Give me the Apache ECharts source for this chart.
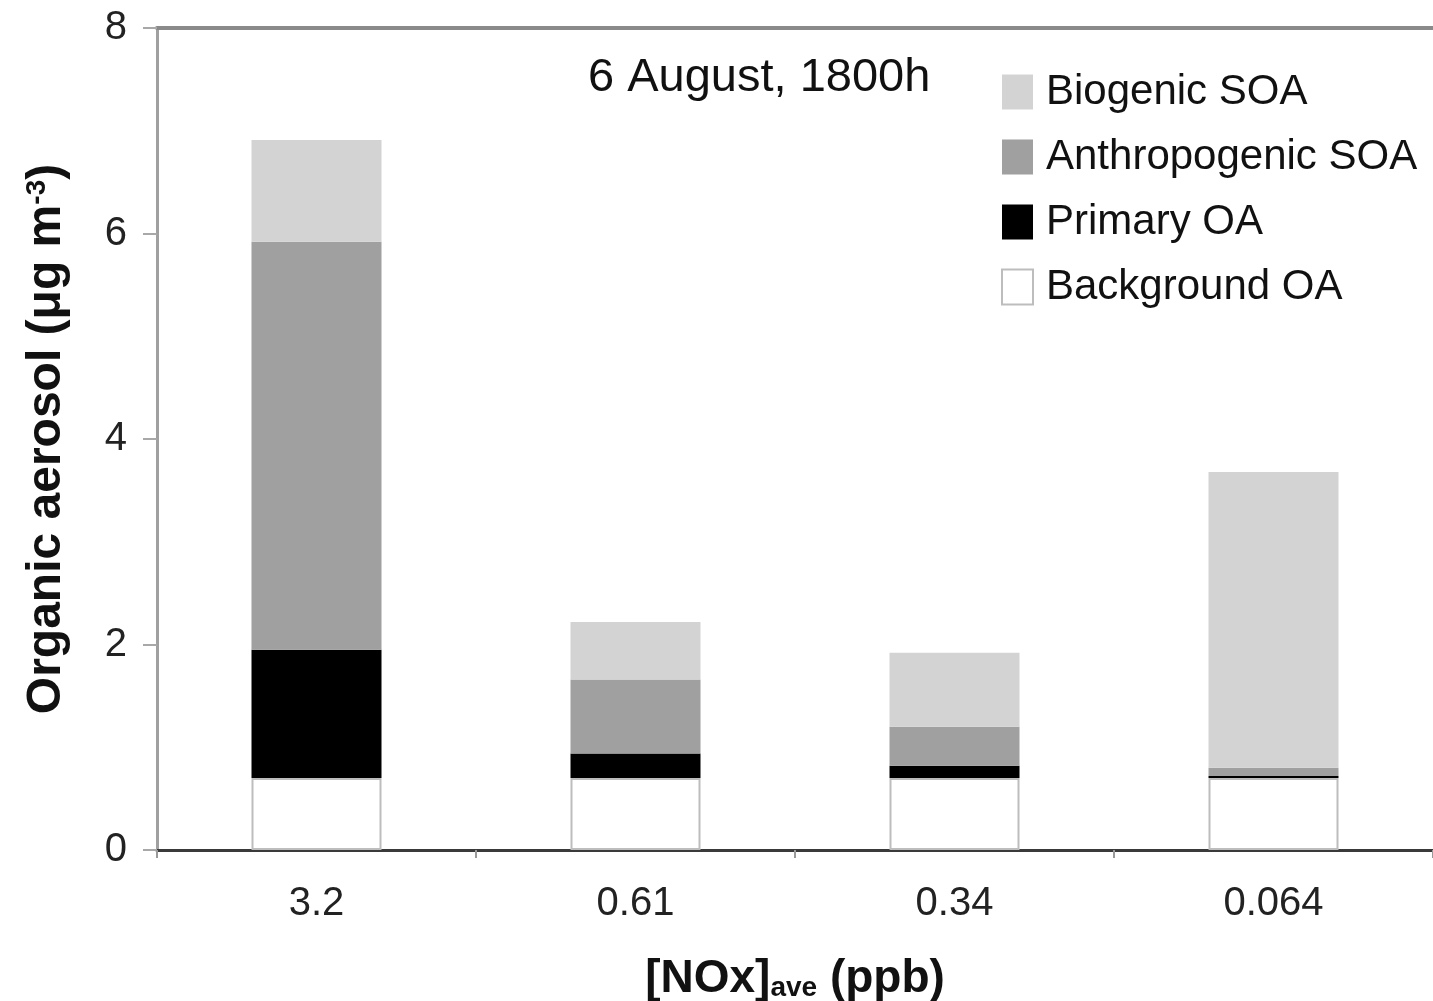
<!DOCTYPE html>
<html>
<head>
<meta charset="utf-8">
<title>Organic aerosol by NOx level</title>
<script src="https://cdn.jsdelivr.net/npm/echarts@6/dist/echarts.min.js"></script>
<style>
  html, body { margin: 0; padding: 0; background: #ffffff; overflow: hidden; }
  #chart { width: 1433px; height: 1001px; }
</style>
</head>
<body>
<div id="chart"></div>
<script>
// Average NOx (ppb) for each case
const categories = ['3.2', '0.61', '0.34', '0.064'];

// Organic aerosol components (µg m-3), stacked from the bottom up
const backgroundOA     = [0.70, 0.70, 0.70, 0.70];
const primaryOA        = [1.25, 0.24, 0.12, 0.02];
const anthropogenicSOA = [3.97, 0.72, 0.38, 0.08];
const biogenicSOA      = [0.99, 0.56, 0.72, 2.88];

const yTicks = { min: 0, max: 8, interval: 2 };
const titleText = '6 August, 1800h';

const FONT = '"Liberation Sans", Arial, Helvetica, sans-serif';

const chart = echarts.init(document.getElementById('chart'), null, { renderer: 'canvas' });

function barSeries(name, data, color, border) {
  return {
    name: name,
    type: 'bar',
    stack: 'oa',
    data: data,
    barWidth: 130,
    itemStyle: {
      color: color,
      borderColor: border || color,
      borderWidth: border ? 2 : 0
    },
    emphasis: { disabled: true }
  };
}

chart.setOption({
  animation: false,
  backgroundColor: '#ffffff',
  title: {
    text: titleText,
    left: 588,
    top: 55,
    padding: 0,
    textStyle: { fontFamily: FONT, fontSize: 47, fontWeight: 'normal', color: '#111111' }
  },
  legend: {
    orient: 'vertical',
    left: 1001,
    top: 71,
    padding: 0,
    icon: 'rect',
    itemWidth: 31,
    itemHeight: 35,
    itemGap: 23,
    selectedMode: false,
    data: ['Biogenic SOA', 'Anthropogenic SOA', 'Primary OA', 'Background OA'],
    textStyle: { fontFamily: FONT, fontSize: 42, color: '#111111', padding: [0, 0, 0, 8] }
  },
  // fixed plot rectangle; the axis name is allowed to run to the bottom edge
  grid: { left: 157, right: 0, top: 28, height: 822, containLabel: false, outerBoundsMode: 'none' },
  xAxis: [
    {
      type: 'category',
      data: categories,
      position: 'bottom',
      axisLine: { show: true, lineStyle: { color: '#3a3a3a', width: 3 } },
      axisTick: { show: true, length: 8, lineStyle: { color: '#999999', width: 2 } },
      axisLabel: { fontFamily: FONT, fontSize: 40, color: '#222222', margin: 34 },
      name: '{n|[NOx]}{s|ave}{n| (ppb)}',
      nameLocation: 'middle',
      nameGap: 96,
      nameTextStyle: {
        rich: {
          n: { fontFamily: FONT, fontSize: 46, fontWeight: 'bold', color: '#111111', lineHeight: 56, verticalAlign: 'bottom' },
          s: { fontFamily: FONT, fontSize: 28, fontWeight: 'bold', color: '#111111', lineHeight: 26, verticalAlign: 'bottom' }
        }
      }
    },
    {
      type: 'category',
      data: categories,
      position: 'top',
      axisLine: { show: true, lineStyle: { color: '#8a8a8a', width: 4 } },
      axisTick: { show: false },
      axisLabel: { show: false }
    }
  ],
  yAxis: {
    type: 'value',
    min: yTicks.min,
    max: yTicks.max,
    interval: yTicks.interval,
    axisLine: { show: true, lineStyle: { color: '#a0a0a0', width: 3 } },
    axisTick: { show: true, length: 14, lineStyle: { color: '#a8a8a8', width: 2 } },
    splitLine: { show: false },
    axisLabel: { fontFamily: FONT, fontSize: 40, color: '#222222', margin: 30 },
    name: '{n|Organic aerosol (μg m}{sup|-3}{n|)}',
    nameLocation: 'middle',
    nameGap: 78,
    nameRotate: 90,
    nameTextStyle: {
      rich: {
        n: { fontFamily: FONT, fontSize: 48, fontWeight: 'bold', color: '#111111', lineHeight: 56, verticalAlign: 'top' },
        sup: { fontFamily: FONT, fontSize: 28, fontWeight: 'bold', color: '#111111', lineHeight: 26, verticalAlign: 'top' }
      }
    }
  },
  series: [
    barSeries('Background OA', backgroundOA, '#ffffff', '#bdbdbd'),
    barSeries('Primary OA', primaryOA, '#000000'),
    barSeries('Anthropogenic SOA', anthropogenicSOA, '#a0a0a0'),
    barSeries('Biogenic SOA', biogenicSOA, '#d3d3d3')
  ]
});
</script>
</body>
</html>
